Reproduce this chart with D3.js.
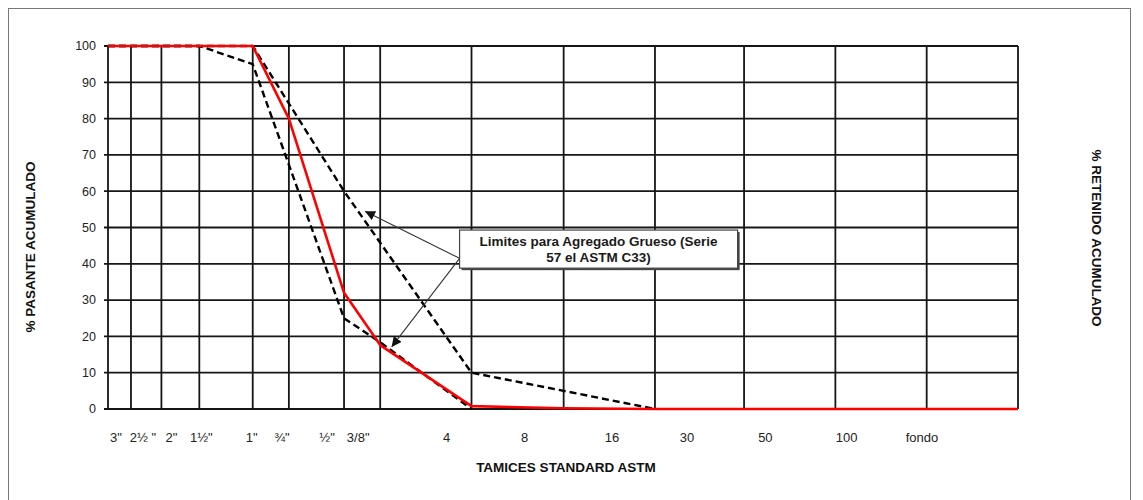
<!doctype html>
<html lang="es">
<head>
<meta charset="utf-8">
<title>Curva granulométrica</title>
<script src="https://d3js.org/d3.v7.min.js"></script>
<style>
  body { margin: 0; background: #fff; }
  svg { display: block; font-family: "Liberation Sans", Arial, sans-serif; }
</style>
</head>
<body>
<div id="chart"></div>
<script>
// Data ----------------------------------------------------------------------
const sieveLabels = ['3"', '2½ "', '2"', '1½"', '1"', '¾"', '½"', '3/8"', '4', '8', '16', '30', '50', '100', 'fondo'];
const sieveMm = [75, 63, 50, 37.5, 25, 19, 12.5, 9.5, 4.75, 2.36, 1.18, 0.6, 0.3, 0.15, 0.075];
const passing = [100, 100, 100, 100, 100, 80, 32, 17.6, 0.8, 0.2, 0, 0, 0, 0, 0];

const upperMm = [75, 63, 50, 37.5, 25, 12.5, 4.75, 2.36, 1.18];
const upperVal = [100, 100, 100, 100, 100, 60, 10, 5, 0];
const lowerMm = [75, 63, 50, 37.5, 25, 12.5, 9.5, 4.75];
const lowerVal = [100, 100, 100, 100, 95, 25, 18.4, 0];

const yTicks = [0, 10, 20, 30, 40, 50, 60, 70, 80, 90, 100];
const noteLines = ["Limites para Agregado Grueso (Serie", "57 el ASTM C33)"];

// Layout --------------------------------------------------------------------
const width = 1143, height = 500;
const plot = { left: 108, right: 1018, top: 46, bottom: 409 };

const svg = d3.select("#chart").append("svg")
  .attr("width", width).attr("height", height);

// outer frame
svg.append("rect")
  .attr("x", 8.5).attr("y", 8.5).attr("width", 1122).attr("height", 520)
  .attr("fill", "none").attr("stroke", "#777").attr("stroke-width", 1);

const x = d3.scaleLog().domain([75, 0.075]).range([plot.left, plot.right]);
const y = d3.scaleLinear().domain([0, 100]).range([plot.bottom, plot.top]);

// Grid ----------------------------------------------------------------------
const grid = svg.append("g").attr("stroke", "#161616").attr("stroke-width", 1.8);

grid.selectAll("line.h").data(yTicks).enter().append("line")
  .attr("x1", plot.left - 4).attr("x2", plot.right)
  .attr("y1", d => y(d)).attr("y2", d => y(d));

grid.selectAll("line.v").data(sieveMm).enter().append("line")
  .attr("x1", d => x(d)).attr("x2", d => x(d))
  .attr("y1", plot.top).attr("y2", plot.bottom);

// Y tick labels
svg.append("g").selectAll("text").data(yTicks).enter().append("text")
  .attr("x", plot.left - 12).attr("y", d => y(d)).attr("dy", "0.35em")
  .attr("text-anchor", "end").attr("font-size", 12.5).attr("fill", "#222")
  .text(d => d);

// X labels (hand-placed text boxes in the original, so shifted off the lines)
const labelShift = [8, 12, 10, 2, -1, -7, -17, -22, -25, -39, -43, -57, -70, -80, -96];
svg.append("g").selectAll("text").data(sieveLabels).enter().append("text")
  .attr("x", (d, i) => x(sieveMm[i]) + labelShift[i]).attr("y", 442)
  .attr("text-anchor", "middle").attr("font-size", 13).attr("fill", "#222")
  .text(d => d);

// Axis titles
svg.append("text")
  .attr("x", 566).attr("y", 472).attr("text-anchor", "middle")
  .attr("font-size", 13.5).attr("font-weight", "bold").attr("fill", "#111")
  .text("TAMICES STANDARD ASTM");

svg.append("text")
  .attr("transform", "translate(35,247) rotate(-90)")
  .attr("text-anchor", "middle")
  .attr("font-size", 13.5).attr("font-weight", "bold").attr("fill", "#111")
  .text("% PASANTE ACUMULADO");

svg.append("text")
  .attr("transform", "translate(1092,238) rotate(90)")
  .attr("text-anchor", "middle")
  .attr("font-size", 13.5).attr("font-weight", "bold").attr("fill", "#111")
  .text("% RETENIDO ACUMULADO");

// Curves --------------------------------------------------------------------
const line = d3.line().x(d => x(d[0])).y(d => y(d[1]));

svg.append("path")
  .attr("d", line(d3.zip(upperMm, upperVal)))
  .attr("fill", "none").attr("stroke", "#000").attr("stroke-width", 2.4)
  .attr("stroke-dasharray", "7,4");

svg.append("path")
  .attr("d", line(d3.zip(lowerMm, lowerVal)))
  .attr("fill", "none").attr("stroke", "#000").attr("stroke-width", 2.4)
  .attr("stroke-dasharray", "7,4");

svg.append("path")
  .attr("d", line(d3.zip(sieveMm, passing)))
  .attr("fill", "none").attr("stroke", "#ff0000").attr("stroke-width", 2.6)
  .attr("stroke-linejoin", "round");

// Annotation ----------------------------------------------------------------
svg.append("defs").append("marker")
  .attr("id", "arrow").attr("viewBox", "0 0 10 10")
  .attr("refX", 10).attr("refY", 5)
  .attr("markerWidth", 10).attr("markerHeight", 10)
  .attr("markerUnits", "userSpaceOnUse")
  .attr("orient", "auto")
  .append("path").attr("d", "M0,0 L10,5 L0,10 z").attr("fill", "#111");

const boxX0 = x(5.2), boxX1 = x(0.63), boxY0 = y(49.3), boxY1 = y(38.8);
const origin = [boxX0, y(41.5)];
const targets = [[10.66, 54.5], [8.71, 17.1]];

svg.append("g").selectAll("line").data(targets).enter().append("line")
  .attr("x1", origin[0]).attr("y1", origin[1])
  .attr("x2", d => x(d[0])).attr("y2", d => y(d[1]))
  .attr("stroke", "#333").attr("stroke-width", 1.1)
  .attr("marker-end", "url(#arrow)");

svg.append("rect")
  .attr("x", boxX0 + 2).attr("y", boxY0 + 2)
  .attr("width", boxX1 - boxX0).attr("height", boxY1 - boxY0)
  .attr("fill", "#444");
svg.append("rect")
  .attr("x", boxX0).attr("y", boxY0)
  .attr("width", boxX1 - boxX0).attr("height", boxY1 - boxY0)
  .attr("fill", "#fff").attr("stroke", "#444").attr("stroke-width", 1.2);

svg.append("g").selectAll("text").data(noteLines).enter().append("text")
  .attr("x", (boxX0 + boxX1) / 2).attr("y", (d, i) => boxY0 + 16 + i * 16)
  .attr("text-anchor", "middle")
  .attr("font-size", 13.5).attr("font-weight", "bold").attr("fill", "#1a1a1a")
  .text(d => d);
</script>
</body>
</html>
